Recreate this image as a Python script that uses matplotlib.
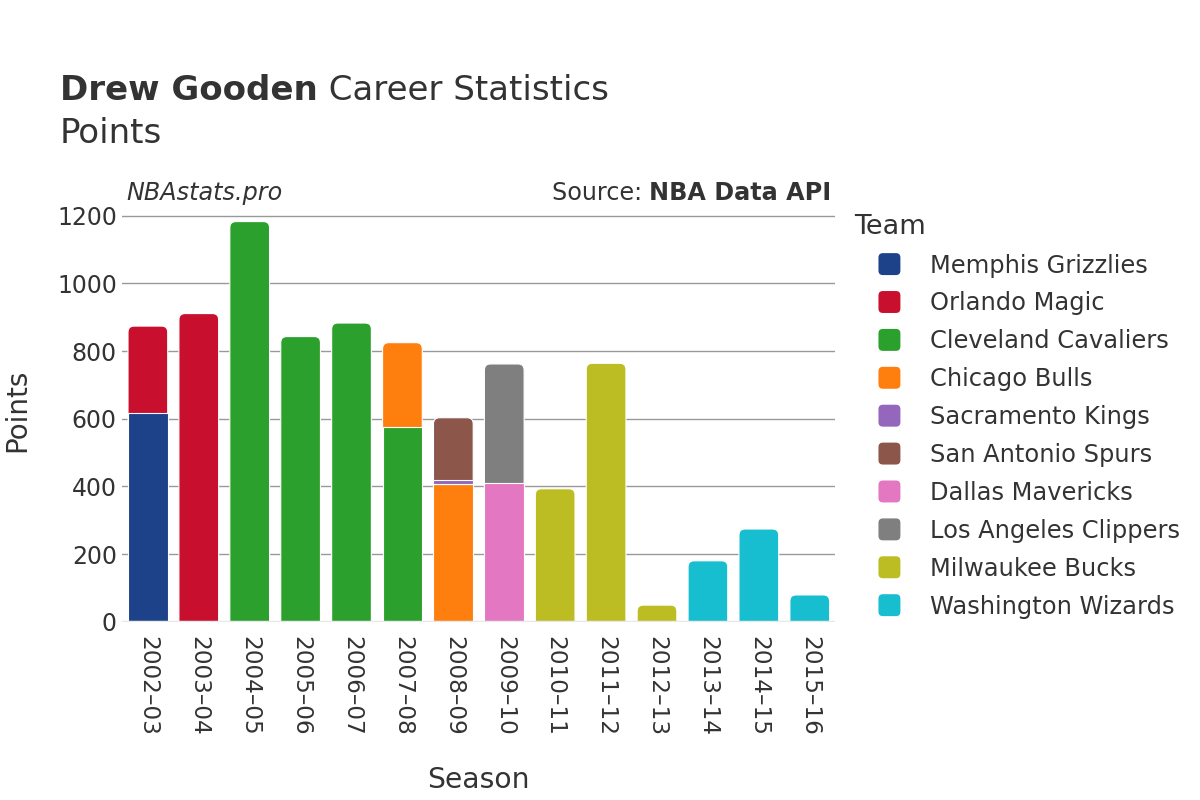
import matplotlib
matplotlib.use("Agg")
import matplotlib.pyplot as plt
from matplotlib.patches import FancyBboxPatch, Patch
from matplotlib.legend_handler import HandlerPatch
import numpy as np

plt.rcParams['font.family'] = ['DejaVu Sans']

seasons = ["2002–03", "2003–04", "2004–05", "2005–06", "2006–07", "2007–08", "2008–09",
           "2009–10", "2010–11", "2011–12", "2012–13", "2013–14", "2014–15", "2015–16"]
teams = ["Memphis Grizzlies", "Orlando Magic", "Cleveland Cavaliers", "Chicago Bulls",
         "Sacramento Kings", "San Antonio Spurs", "Dallas Mavericks", "Los Angeles Clippers",
         "Milwaukee Bucks", "Washington Wizards"]
colors = ["#1d428a", "#c8102e", "#2ca02c", "#ff7f0e", "#9467bd", "#8c564b", "#e377c2",
          "#7f7f7f", "#bcbd22", "#17becf"]

memphis    = [616, 0, 0, 0, 0, 0, 0, 0, 0, 0, 0, 0, 0, 0]
orlando    = [258, 911, 0, 0, 0, 0, 0, 0, 0, 0, 0, 0, 0, 0]
cleveland  = [0, 0, 1183, 843, 883, 575, 0, 0, 0, 0, 0, 0, 0, 0]
chicago    = [0, 0, 0, 0, 0, 250, 406, 0, 0, 0, 0, 0, 0, 0]
sacramento = [0, 0, 0, 0, 0, 0, 12, 0, 0, 0, 0, 0, 0, 0]
san_antonio= [0, 0, 0, 0, 0, 0, 185, 0, 0, 0, 0, 0, 0, 0]
dallas     = [0, 0, 0, 0, 0, 0, 0, 409, 0, 0, 0, 0, 0, 0]
clippers   = [0, 0, 0, 0, 0, 0, 0, 353, 0, 0, 0, 0, 0, 0]
milwaukee  = [0, 0, 0, 0, 0, 0, 0, 0, 393, 764, 49, 0, 0, 0]
washington = [0, 0, 0, 0, 0, 0, 0, 0, 0, 0, 0, 180, 274, 79]

series = [memphis, orlando, cleveland, chicago, sacramento, san_antonio, dallas,
          clippers, milwaukee, washington]

TXT = "#333333"
fig = plt.figure(figsize=(12, 8), dpi=100)
ax = fig.add_axes([0.102, 0.2229, 0.594, 0.520])

x = np.arange(len(seasons))
data = np.array(series, dtype=float)
totals = data.sum(axis=0)
bottom = np.zeros(len(seasons))
bar_w = 0.78
ymax = 1230
ax.set_xlim(-0.5, len(seasons) - 0.5)
ax.set_ylim(0, ymax)

ax_w_px = 0.594 * 1200
ax_h_px = 0.520 * 800
px_per_x = ax_w_px / len(seasons)
px_per_y = ax_h_px / ymax
aspect = px_per_x / px_per_y
r = 0.12

for vals, col in zip(series, colors):
    vals = np.array(vals, dtype=float)
    bars = ax.bar(x, vals, bar_w, bottom=bottom, color=col, edgecolor="white",
                  linewidth=0.8, zorder=3)
    for i, b in enumerate(bars):
        if vals[i] <= 0:
            b.set_visible(False)
            continue
        is_top = abs(bottom[i] + vals[i] - totals[i]) < 1e-6
        if is_top:
            b.set_visible(False)
            ext = r * aspect * 2
            fb = FancyBboxPatch((b.get_x(), b.get_y() - ext), b.get_width(),
                                b.get_height() + ext,
                                boxstyle=f"round,pad=0,rounding_size={r}",
                                mutation_aspect=aspect, facecolor=col,
                                edgecolor="white", linewidth=0.8, zorder=2.9)
            ax.add_patch(fb)
    bottom = bottom + vals

ax.set_yticks([0, 200, 400, 600, 800, 1000, 1200])
ax.grid(axis='y', color="#999999", linewidth=1, zorder=0)
ax.axhline(0, color="#e8e8e8", linewidth=2.5, zorder=4)
ax.set_xticks(x)
ax.set_xticklabels(seasons, rotation=-90, fontsize=16.7, color=TXT)
ax.tick_params(axis='y', labelsize=17, labelcolor=TXT, length=0, pad=4)
ax.tick_params(axis='x', length=0, pad=10)
for s in ax.spines.values():
    s.set_visible(False)

fig.text(17 / 1200, 1 - 410 / 800, "Points", rotation=90, fontsize=20, color=TXT,
         ha='center', va='center')
fig.text(478 / 1200, 1 - 788 / 800, "Season", fontsize=20.3, color=TXT,
         ha='center', va='baseline')

tb = fig.text(60 / 1200, 1 - 100 / 800, "Drew Gooden", fontsize=24.5, fontweight='bold',
              color=TXT, va='baseline')
fig.canvas.draw()
bbx = tb.get_window_extent()
fig.text(bbx.x1 / 1200, 1 - 100 / 800, " Career Statistics", fontsize=24.5, color=TXT,
         va='baseline')
fig.text(60 / 1200, 1 - 143 / 800, "Points", fontsize=24.5, color=TXT, va='baseline')

ax.text(0.006, 1.001, "NBAstats.pro", transform=ax.transAxes, fontsize=17.2,
        style='italic', color=TXT, va='bottom', ha='left')
t1 = ax.text(0.995, 1.001, "NBA Data API", transform=ax.transAxes, fontsize=17.2,
             fontweight='bold', color=TXT, va='bottom', ha='right')
fig.canvas.draw()
bb = t1.get_window_extent()
inv = ax.transAxes.inverted()
lx = inv.transform((bb.x0, bb.y0))[0]
ax.text(lx, 1.001, "Source: ", transform=ax.transAxes, fontsize=17.2,
        color=TXT, va='bottom', ha='right')


def rounded_square(legend, orig_handle, xdescent, ydescent, width, height, fontsize):
    side = 15.8
    cx = -xdescent + width / 2
    cy = -ydescent + height / 2
    return FancyBboxPatch((cx - side / 2, cy - side / 2), side, side,
                          boxstyle="round,pad=0,rounding_size=3.2")


handles = [Patch(facecolor=c, edgecolor=c, linewidth=0) for c in colors]
leg = fig.legend(handles, teams, loc='upper left',
                 bbox_to_anchor=(844 / 1200, 1 - 204 / 800), frameon=False,
                 fontsize=17.4, title="Team", title_fontsize=19.5,
                 alignment='left', handletextpad=0.21, labelspacing=0.575,
                 borderaxespad=0, handlelength=2.96,
                 handler_map={Patch: HandlerPatch(patch_func=rounded_square)})
for t in leg.get_texts():
    t.set_color(TXT)
leg.get_title().set_color(TXT)

fig.savefig("out.png", dpi=100, facecolor="white")
